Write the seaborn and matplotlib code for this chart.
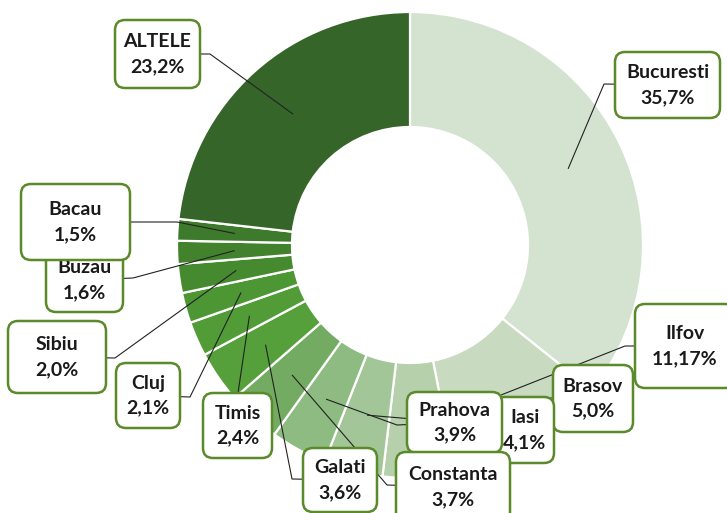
import numpy as np
import matplotlib
matplotlib.use("Agg")
import matplotlib.pyplot as plt
from matplotlib.patches import FancyBboxPatch
import seaborn as sns

# Share of each county (percent), clockwise from 12 o'clock
regions = ["Bucuresti", "Ilfov", "Brasov", "Iasi", "Prahova", "Constanta",
           "Galati", "Timis", "Cluj", "Sibiu", "Buzau", "Bacau", "ALTELE"]
shares = [35.7, 11.17, 5.0, 4.1, 3.9, 3.7, 3.6, 2.4, 2.1, 2.0, 1.6, 1.5, 23.2]
share_labels = ["35,7%", "11,17%", "5,0%", "4,1%", "3,9%", "3,7%", "3,6%",
                "2,4%", "2,1%", "2,0%", "1,6%", "1,5%", "23,2%"]

colors = ["#d4e2d0", "#c8dac0", "#b5d0ab", "#a3c698", "#8ebb81", "#74ab62",
          "#55a03a", "#519c36", "#4c9633", "#468a2f", "#42822d", "#3e7a2b",
          "#36652a"]

W, H = 727, 513
CX, CY = 410, 245          # ring centre, pixel coords (y down)
R_OUT, RING = 233, 115

# label boxes: centre x, centre y, width, height, leader bend (pixels, y down)
label_pos = {
    "ALTELE": (157.5, 54, 85, 68, (210, 54)),
    "Bucuresti": (667.5, 85, 105, 66, (604, 84)),
    "Ilfov": (685, 346, 100, 84, (625, 346)),
    "Brasov": (593, 398.5, 80, 67, (545, 398)),
    "Iasi": (524.5, 430, 59, 66, (485, 425)),
    "Prahova": (454.5, 422.5, 95, 61, (397, 425)),
    "Constanta": (453, 487, 114, 70, (387, 485)),
    "Galati": (340, 480, 74, 64, (292, 479)),
    "Timis": (237.5, 425.5, 69, 65, (238, 393)),
    "Cluj": (148, 395.5, 64, 65, (190, 397)),
    "Sibiu": (57, 357, 98, 72, (115, 358)),
    "Buzau": (84.5, 280, 77, 64, (133, 278)),
    "Bacau": (75.5, 222, 109, 76, (177, 222)),
}


def fy(y):
    return H - y


sns.set_theme(style="white")
plt.rcParams["font.family"] = ["Lato", "DejaVu Sans"]

fig = plt.figure(figsize=(W / 100, H / 100), dpi=100)
ax = fig.add_axes([0, 0, 1, 1])

ax.pie(shares, colors=colors, startangle=90, counterclock=False,
       radius=R_OUT, center=(CX, fy(CY)),
       wedgeprops=dict(width=RING, edgecolor="white", linewidth=1.6))

ax.set_xlim(0, W)
ax.set_ylim(0, H)
ax.set_aspect("equal")
ax.axis("off")

# leader anchors: middle of each wedge
cum = np.cumsum([0] + shares[:-1])
total = sum(shares)
r_mid = R_OUT - RING / 2
for i, name in enumerate(regions):
    theta = np.deg2rad((cum[i] + shares[i] / 2) / total * 360)
    ax_x = CX + r_mid * np.sin(theta)
    ax_y = CY - r_mid * np.cos(theta)
    bx, by, bw, bh, bend = label_pos[name]
    pts = [(ax_x, ax_y), bend, (bx, by)]
    ax.plot([p[0] for p in pts], [fy(p[1]) for p in pts],
            color="#222222", lw=0.8, zorder=3, solid_capstyle="butt")

for i, name in enumerate(regions):
    bx, by, bw, bh, _ = label_pos[name]
    z = 5 + i * 0.1
    box = FancyBboxPatch((bx - bw / 2, fy(by) - bh / 2), bw, bh,
                         boxstyle="round,pad=0,rounding_size=10",
                         facecolor="white", edgecolor="#5a8a2a",
                         linewidth=1.8, zorder=z)
    ax.add_patch(box)
    ax.text(bx, fy(by), f"{name}\n{share_labels[i]}", ha="center",
            va="center", fontsize=14, fontweight="bold", color="#1a1a1a",
            linespacing=1.55, zorder=z + 0.05)

fig.savefig("out.png", dpi=100)
